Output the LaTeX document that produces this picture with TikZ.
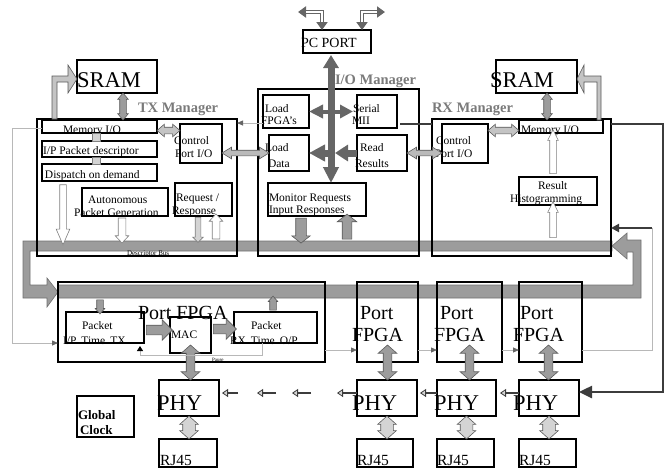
\documentclass[tikz,border=0pt]{standalone}
\usepackage{fontspec}
\setmainfont{Liberation Serif}
\usetikzlibrary{shapes.arrows,arrows.meta,calc}
\pgfdeclarelayer{bg}
\pgfsetlayers{bg,main}
\definecolor{busg}{HTML}{9C9C9C}
\definecolor{busline}{HTML}{707070}
\definecolor{iog}{HTML}{666666}
\definecolor{mgrg}{HTML}{7A7A7A}
\definecolor{thing}{HTML}{B8B8B8}
\definecolor{darkl}{HTML}{3C3C3C}
\definecolor{lightarr}{HTML}{D4D4D4}
\definecolor{arrline}{HTML}{5A5A5A}
\tikzset{
  box/.style={draw=black, line width=1.8pt, inner sep=0pt, outer sep=0pt},
  t/.style={anchor=base west, inner sep=0pt, outer sep=0pt, font=\fontsize{11.5}{13}\selectfont},
  tbig/.style={t, font=\fontsize{22.5}{26}\selectfont},
  tpf/.style={t, font=\fontsize{20}{24}\selectfont},
  trj/.style={t, font=\fontsize{15.5}{18}\selectfont},
  tmgr/.style={t, text=mgrg, font=\fontsize{14.5}{17}\selectfont\bfseries},
  ba/.style={inner sep=0pt, outer sep=0pt, line width=0.6pt, draw=arrline},
  sa/.style n args={3}{ba, single arrow, inner ysep={(#1-2*#2)/2}, minimum width=#1, single arrow head extend=#2, single arrow tip angle=#3},
  da/.style n args={3}{ba, double arrow, inner ysep={(#1-2*#2)/2}, minimum width=#1, double arrow head extend=#2, double arrow tip angle=#3},
  gf/.style={fill=busg},
  wf/.style={fill=white, draw=gray},
  lf/.style={fill=lightarr},
  bus/.style={fill=busg, draw=busline, line width=0.6pt},
  thinc/.style={draw=thing, line width=0.8pt},
  tipg/.style={-{Triangle[length=6pt,width=5pt,color=iog]}},
  dk/.style={draw=darkl, line width=2.5pt},
  ioa/.style={draw=iog, line width=7pt},
  phya/.style={draw=darkl, line width=2.5pt, -{Triangle[length=6pt,width=8pt,line width=0.8pt,fill=lightarr]}},
}
\newcommand{\bx}[6][]{\node[box,#1,anchor=north west,minimum width={#5-#3},minimum height={#6-#4}] (#2) at (#3,#4) {};}
\newcommand{\barrow}[4]{%
  \path let \p1=#3, \p2=#4, \n1={veclen(\x2-\x1,\y2-\y1)}, \n2={atan2(\y2-\y1,\x2-\x1)} in
    node[#1, rotate=\n2, minimum height=\n1] (#2) at ($(\p1)!0.5!(\p2)$) {};}
\begin{document}
\begin{tikzpicture}[x=1pt,y=-1pt]
\useasboundingbox (0,0) rectangle (667,469);
% ---------------- texts
\node[t, font=\fontsize{14}{16}\selectfont] (tpc) at (301,47) {PC PORT};
\node[tmgr] (tio) at (335,84) {I/O Manager};
\node[tmgr] (ttx) at (138,112) {TX Manager};
\node[tmgr] (trx) at (432,112) {RX Manager};
\node[tbig] (tsl) at (77,87) {SRAM};
\node[tbig] (tsr) at (490,87) {SRAM};
\node[t] (tml) at (63,133) {Memory I/O};
\node[t] (tmr) at (521,133) {Memory I/O};
\node[t] (tipd) at (43,154) {I/P Packet descriptor};
\node[t] (tdisp) at (45,178) {Dispatch on demand};
\node[t] (tcl1) at (174,144) {Control};
\node[t] (tcl2) at (175,157) {Port I/O};
\node[t] (tau1) at (88,203) {Autonomous};
\node[t] (tau2) at (74,216) {Packet Generation};
\node[t] (trq1) at (176,201) {Request /};
\node[t] (trq2) at (172,214) {Response};
\node[t] (tlf1) at (265,112) {Load};
\node[t] (tlf2) at (261,124) {FPGA’s};
\node[t] (tsm1) at (353,112) {Serial};
\node[t] (tsm2) at (352,124) {MII};
\node[t] (tld1) at (265,151) {Load};
\node[t] (tld2) at (268,167) {Data};
\node[t] (trr1) at (360,151) {Read};
\node[t] (trr2) at (355,167) {Results};
\node[t] (tmo1) at (269,201) {Monitor Requests};
\node[t] (tmo2) at (269,213) {Input Responses};
\node[t] (tcr1) at (436,144) {Control};
\node[t] (tcr2) at (435,157) {Port I/O};
\node[t] (th1) at (538,189) {Result};
\node[t] (th2) at (510,202) {Histogramming};
\node[t, font=\fontsize{7}{8}\selectfont] (tdb) at (127,255) {Descriptor Bus};
\node[tpf] (tpf1) at (138,319) {Port FPGA};
\node[t] (tpi1) at (82,329) {Packet};
\node[t] (tpi2) at (63,344) {I/P\hspace{5pt}Time\hspace{5pt}TX};
\node[t] (tmac) at (171,338) {MAC};
\node[t] (tpo1) at (251,329) {Packet};
\node[t] (tpo2) at (230,344) {RX\hspace{5pt}Time\hspace{5pt}O/P};
\node[t, font=\fontsize{5}{6}\selectfont] (tpause) at (212,361) {Pause};
\node[tpf] (tpf2a) at (360,319) {Port};
\node[tpf] (tpf2b) at (352,341) {FPGA};
\node[tpf] (tpf3a) at (440,319) {Port};
\node[tpf] (tpf3b) at (434,341) {FPGA};
\node[tpf] (tpf4a) at (520,319) {Port};
\node[tpf] (tpf4b) at (513,341) {FPGA};
\node[tbig] (tphy1) at (157,410) {PHY};
\node[tbig] (tphy2) at (352,410) {PHY};
\node[tbig] (tphy3) at (434,410) {PHY};
\node[tbig] (tphy4) at (513,410) {PHY};
\node[trj] (trj1) at (160,465) {RJ45};
\node[trj] (trj2) at (357,465) {RJ45};
\node[trj] (trj3) at (437,465) {RJ45};
\node[trj] (trj4) at (519,465) {RJ45};
\node[t, font=\fontsize{13}{15}\selectfont\bfseries] (tgc1) at (78,419) {Global};
\node[t, font=\fontsize{13}{15}\selectfont\bfseries] (tgc2) at (80,434) {Clock};
% ---------------- boxes
\bx{pc}{303}{30}{371}{53}
\bx{io}{258}{89}{419}{256}
\bx{ldf}{263}{95}{309}{128}
\bx{smii}{357}{95}{397}{128}
\bx{ldd}{269}{135}{309}{171}
\bx{rr}{357}{135}{407}{171}
\bx{mon}{268}{183}{366}{216}
\bx{tx}{37}{119}{237}{256}
\bx{sramL}{77}{60}{157}{93}
\bx{memL}{42}{120}{157}{133}
\bx{ipd}{42}{141}{157}{157}
\bx{disp}{42}{164}{157}{181}
\bx{ctlL}{180}{124}{222}{163}
\bx{auto}{82}{188}{168}{216}
\bx{rq}{175}{183}{232}{216}
\bx{rx}{432}{119}{611}{256}
\bx{sramR}{496}{60}{577}{93}
\bx{memR}{519}{120}{603}{133}
\bx{ctlR}{442}{124}{488}{163}
\bx{hist}{519}{177}{597}{205}
\bx{pf1}{58}{282}{325}{362}
\bx{pin}{66}{312}{144}{343}
\bx{mac}{170}{317}{211}{353}
\bx{pout}{234}{312}{317}{343}
\bx{pf2}{357}{282}{418}{362}
\bx{pf3}{437}{282}{502}{362}
\bx{pf4}{519}{282}{582}{362}
\bx{phy1}{159}{380}{219}{416}
\bx{phy2}{357}{380}{417}{416}
\bx{phy3}{437}{380}{496}{416}
\bx{phy4}{519}{380}{579}{416}
\bx{rj1}{159}{439}{217}{467}
\bx{rj2}{357}{439}{413}{467}
\bx{rj3}{437}{439}{494}{467}
\bx{rj4}{519}{439}{576}{467}
\bx[line width=1.5pt]{gclk}{77}{396}{134}{437}
% ---------------- bus ring
\begin{pgfonlayer}{bg}
\draw[bus] (612,241) -- (23,241) -- (23,298) -- (47,298) -- (47,307) -- (58,292) -- (47,278) -- (47,285) -- (30,285) -- (30,251) -- (612,251) -- cycle;
\draw[bus] (58,285) -- (633,285) -- (633,252) -- (627,252) -- (627,259) -- (612,246) -- (627,233) -- (627,240) -- (641,240) -- (641,298) -- (58,298) -- cycle;
\end{pgfonlayer}
\coordinate (busT) at (0,241);
\coordinate (lbB) at (0,298);
% ---------------- PC PORT arrows
\coordinate (pcl) at (298,12);
\coordinate (pcr) at (385,12);
\coordinate (pcla) at ($(pc.north)+(-15,0)$);
\coordinate (pcra) at ($(pc.north)+(25,0)$);
\draw[draw=iog, line width=4.5pt, {Triangle[length=8pt,width=11pt]}-{Triangle[length=8pt,width=11pt]}] (pcl) -| (pcla);
\draw[white, line width=2pt, shorten <=8pt, shorten >=8pt] (pcl) -| (pcla);
\draw[draw=iog, line width=4.5pt, {Triangle[length=8pt,width=11pt]}-{Triangle[length=8pt,width=11pt]}] (pcra) |- (pcr);
\draw[white, line width=2pt, shorten <=8pt, shorten >=8pt] (pcra) |- (pcr);
% ---------------- I/O manager arrows
\coordinate (vt) at ($(pc.south)+(-6,2)$);
\draw[ioa, {Triangle[length=13pt,width=15pt]}-{Triangle[length=16pt,width=15pt]}] (vt) -- (vt |- mon.north);
\draw[draw=iog, line width=4pt, {Triangle[length=14pt,width=13pt]}-{Triangle[length=13pt,width=13pt]}] (ldf.east) -- ($(smii.west)+(-4,0)$);
\draw[ioa, -{Triangle[length=13pt,width=16pt]}] (rr.west) -- ++(-22,0);
\draw[ioa, -{Triangle[length=16pt,width=16pt]}] ($(rr.west)+(-29,0)$) -- (ldd.east);
% ---------------- block arrows
\coordinate (c1) at ($(sramL.south)+(6,0)$);
\barrow{da={10pt}{2pt}{80},gf}{a1}{(c1)}{(c1 |- memL.north)}
\coordinate (c2) at ($(sramR.south)+(10.5,0)$);
\barrow{da={10pt}{2pt}{80},gf}{a2}{(c2)}{(c2 |- memR.north)}
\coordinate (c3) at ($(memL.east)+(0,4)$);
\barrow{da={12pt}{3pt}{81},fill=busg!60}{a3}{(c3)}{(c3 -| ctlL.west)}
\coordinate (c4) at (ctlL.east |- ldd.west);
\barrow{da={11pt}{3pt}{63},fill=busg!70}{a4}{(c4)}{(ldd.west)}
\barrow{da={11pt}{3pt}{63},fill=busg!70}{a5}{(rr.east)}{(rr.east -| ctlR.west)}
\coordinate (c6) at ($(memR.west)+(0,4)$);
\barrow{da={12pt}{3pt}{81},fill=busg!60}{a6}{(c6 -| ctlR.east)}{(c6)}
\coordinate (c7) at ($(disp.south west)+(21,0)$);
\barrow{sa={13pt}{3.5pt}{47},wf}{a7}{(c7)}{(c7 |- busT)}
\coordinate (c8) at ($(auto.south west)+(40,0)$);
\barrow{sa={13pt}{3pt}{86},wf}{a8}{(c8)}{(c8 |- busT)}
\coordinate (c9) at ($(rq.south west)+(23,0)$);
\barrow{sa={10pt}{2.5pt}{90},lf,draw=gray}{a9}{(c9)}{(c9 |- busT)}
\coordinate (c10) at ($(rq.south west)+(41,0)$);
\barrow{sa={13pt}{3pt}{86},wf}{a10}{(c10 |- busT)}{(c10)}
\coordinate (c11) at ($(mon.south west)+(33,0)$);
\barrow{sa={18pt}{4pt}{104},gf}{a11}{(c11)}{(c11 |- busT)}
\coordinate (c12) at ($(mon.south west)+(79,0)$);
\barrow{sa={19pt}{5pt}{104},gf}{a12}{(c12 |- busT)}{(c12)}
\coordinate (c13) at ($(hist.south west)+(34,0)$);
\barrow{sa={10pt}{2pt}{53},wf}{a13}{(c13 |- busT)}{(c13)}
\coordinate (c14) at ($(hist.north west)+(34,0)$);
\barrow{sa={10pt}{2pt}{53},wf}{a14}{(c14)}{(c14 |- memR.south)}
\coordinate (c15) at ($(pin.north west)+(34,0)$);
\barrow{sa={9pt}{1.5pt}{84},gf}{a15}{(c15 |- lbB)}{(c15)}
\coordinate (c16) at ($(pout.north west)+(39,0)$);
\barrow{sa={9pt}{1.5pt}{84},gf}{a16}{(c16)}{(c16 |- lbB)}
\coordinate (c17) at ($(pin.east)+(0,2.5)$);
\barrow{sa={20pt}{5.5pt}{90},gf}{a17}{(c17)}{(c17 -| mac.west)}
\coordinate (c18) at ($(pout.west)+(0,1.5)$);
\barrow{sa={20pt}{5.5pt}{90},gf}{a18}{(c18 -| mac.east)}{(c18)}
\coordinate (m1) at ($(mac.south)+(0,-8)$);
\barrow{da={18pt}{5pt}{97},gf}{a19}{(m1)}{(m1 |- phy1.north)}
\coordinate (m2) at ($(pf2.south)+(0,-17)$);
\barrow{da={18pt}{5pt}{97},gf}{a20}{(m2)}{(m2 |- phy2.north)}
\coordinate (m3) at ($(pf3.south)+(0,-17)$);
\barrow{da={18pt}{5pt}{97},gf}{a21}{(m3)}{(m3 |- phy3.north)}
\coordinate (m4) at ($(pf4.south)+(-2,-17)$);
\barrow{da={18pt}{5pt}{97},gf}{a22}{(m4)}{(m4 |- phy4.north)}
\barrow{da={18pt}{3pt}{96},lf}{a23}{(phy1.south)}{(phy1.south |- rj1.north)}
\barrow{da={18pt}{3pt}{96},lf}{a24}{(phy2.south)}{(phy2.south |- rj2.north)}
\barrow{da={18pt}{3pt}{96},lf}{a25}{(phy3.south)}{(phy3.south |- rj3.north)}
\barrow{da={18pt}{3pt}{96},lf}{a26}{(phy4.south)}{(phy4.south |- rj4.north)}
% bent arrows to SRAMs
\draw[ba, fill=busg!60] (52,119) -- (52,76) -- (68,76) -- (68,65) -- (77,79) -- (68,93) -- (68,82) -- (57,82) -- (57,119) -- cycle;
\draw[ba, fill=busg!60] (601,120) -- (601,76) -- (584,76) -- (584,65) -- (577,79) -- (584,93) -- (584,82) -- (597,82) -- (597,120) -- cycle;
% small links between TX blocks
\draw[fill=lightarr, draw=gray, line width=0.5pt] ($(memL.south west)+(50,0)$) rectangle ($(ipd.north west)+(58,0)$);
\draw[fill=lightarr, draw=gray, line width=0.5pt] ($(ipd.south west)+(50,0)$) rectangle ($(disp.north west)+(58,0)$);
% ---------------- thin connectors
\draw[thinc, tipg] ($(memL.west)+(0,1.5)$) -- ++(-30,0) |- ($(pf1.south west)+(0,-19)$);
\coordinate (c20) at ($(ldf.south west)+(0,-5)$);
\draw[thinc, tipg] (c20) -- (c20 -| tx.east);
\coordinate (p1) at ($(pf1.south east)+(0,-12)$);
\draw[thinc, tipg] (p1) -- (p1 -| pf2.west);
\coordinate (p2) at ($(pf2.south east)+(0,-12)$);
\draw[thinc, tipg] (p2) -- (p2 -| pf3.west);
\coordinate (p3) at ($(pf3.south east)+(0,-12)$);
\draw[thinc, tipg] (p3) -- (p3 -| pf4.west);
\coordinate (rxin) at (652,228);
\coordinate (p4) at ($(pf4.south east)+(0,-12)$);
\draw[thinc] (p4) -| (rxin);
\coordinate (pa) at ($(pout.south west)+(28,0)$);
\coordinate (pb) at ($(pin.south east)+(-4,3)$);
\draw[thinc, -{Triangle[length=5pt,width=6pt,color=black]}] (pa) -- ++(0,12) -| (pb);
% ---------------- dark connectors
\coordinate (sm) at ($(smii.south east)+(3,-4)$);
\coordinate (rc) at (663,124);
\draw[dk] (sm) -- (sm -| rx.west);
\draw[dk, -{Triangle[length=13pt,width=12pt]}] (rc -| rx.east) -- (rc) |- ($(phy4.east)+(0,-6)$);
\draw[dk, -{Triangle[length=8pt,width=8pt]}] (rxin) -- (rxin -| rx.east);
\coordinate (q1) at ($(phy1.east)+(0,-5)$);
\coordinate (q2) at ($(phy2.west)+(0,-5)$);
\coordinate (q3) at ($(phy3.west)+(0,-5)$);
\coordinate (q4) at ($(phy4.west)+(0,-5)$);
\draw[phya] (q2) -- ++(-20,0);
\draw[phya] (q3) -- ++(-17,0);
\draw[phya] (q4) -- ++(-19,0);
\draw[phya] ($(q1)+(19,0)$) -- ++(-16,0);
\draw[phya] ($(q1)+(57,0)$) -- ++(-19,0);
\draw[phya] ($(q1)+(92,0)$) -- ++(-19,0);
\end{tikzpicture}
\end{document}
